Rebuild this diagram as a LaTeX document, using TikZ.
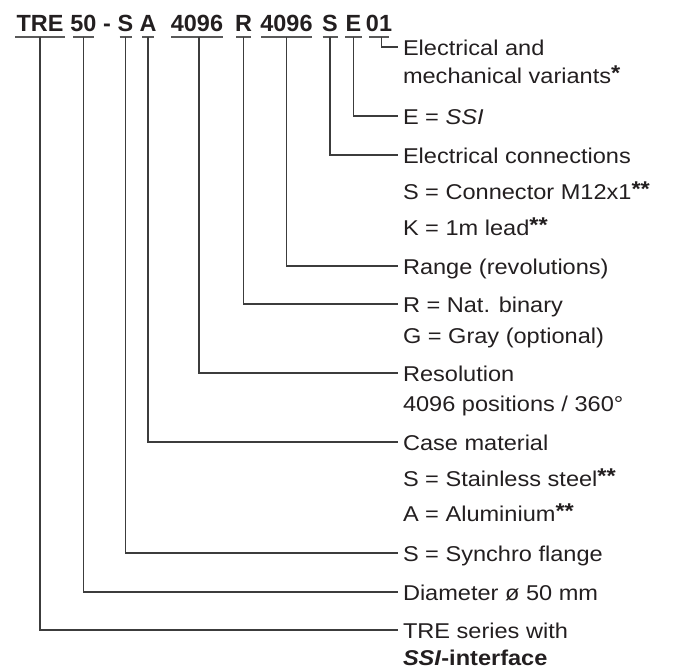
\documentclass[tikz,border=0pt]{standalone}
\usepackage{fontspec}
\setmainfont{Liberation Sans}
\newfontfamily\lblfont{Liberation Sans}[FakeStretch=1.1]
\usetikzlibrary{calc}
\definecolor{ink}{HTML}{231F20}
\definecolor{wire}{HTML}{3C3C3C}
\newcommand\astr[1]{\raisebox{3bp}{\bfseries #1}}
\begin{document}
\begin{tikzpicture}[x=1bp,y=-1bp,
  code/.style={anchor=base, font=\fontsize{23.5}{23.5}\selectfont\bfseries, text=ink,
    inner xsep=0pt, inner ysep=5bp, text depth=0pt, outer sep=0pt},
  lbl/.style={anchor=west, font=\lblfont\fontsize{21.5}{24}\selectfont, text=ink,
    inner xsep=0pt, inner ysep=0pt, outer xsep=5bp, outer ysep=0pt,
    text height=17bp, text depth=0pt},
  wireline/.style={draw=wire, line width=1.1bp},
  uline/.style={draw=wire!85, line width=1.2bp}]
\useasboundingbox (0,0) rectangle (675,670);
% code
\node[code] (ctre) at (40,32) {TRE};
\node[code] (c50) at (83.5,32) {50};
\node[code] (cdash) at (107,32) {-};
\node[code] (cs1) at (125.5,32) {S};
\node[code] (ca) at (148,32) {A};
\node[code] (cres) at (197,32) {4096};
\node[code] (cr) at (243.5,32) {R};
\node[code] (crng) at (286.5,32) {4096};
\node[code] (cs2) at (330,32) {S};
\node[code] (ce) at (353.5,32) {E};
\node[code] (c01) at (379,32) {01};
% underlines
\foreach \n/\w in {ctre/25,c50/10.5,cs1/6,ca/6,cres/26,cr/7.5,crng/25.5,cs2/7.5,ce/8.5,c01/10}
  \draw[uline] ($(\n.south)+(-\w,0)$) -- ($(\n.south)+(\w,0)$);
% labels
\node[lbl] (l1a) at (398,47) {Electrical and};
\node[lbl] (l1b) at (398,75.5) {mechanical variants\astr{*}};
\node[lbl] (l2) at (398,116) {E = \textit{SSI}};
\node[lbl] (l3a) at (398,155) {Electrical connections};
\node[lbl] (l3b) at (398,190.5) {S = Connector M12x1\astr{**}};
\node[lbl] (l3c) at (398,226.5) {K = 1m lead\astr{**}};
\node[lbl] (l4) at (398,266) {Range (revolutions)};
\node[lbl] (l5a) at (398,304) {R = Nat. binary};
\node[lbl] (l5b) at (398,334.5) {G = Gray (optional)};
\node[lbl] (l6a) at (398,373) {Resolution};
\node[lbl] (l6b) at (398,402.5) {4096 positions / 360°};
\node[lbl] (l7a) at (398,442) {Case material};
\node[lbl] (l7b) at (398,477.5) {S = Stainless steel\astr{**}};
\node[lbl] (l7c) at (398,512.5) {A = Aluminium\astr{**}};
\node[lbl] (l8) at (398,553) {S = Synchro flange};
\node[lbl] (l9) at (398,592) {Diameter ø 50 mm};
\node[lbl] (l10a) at (398,630) {TRE series with};
\node[lbl] (l10b) at (398,656.5) {\bfseries\textit{SSI}-interface};
% connectors
\draw[wireline] ([xshift=2.5bp]c01.south) |- (l1a.west);
\draw[wireline] (ce.south) |- (l2.west);
\draw[wireline] (cs2.south) |- (l3a.west);
\draw[wireline] (crng.south) |- (l4.west);
\draw[wireline] (cr.south) |- (l5a.west);
\draw[wireline] ([xshift=2bp]cres.south) |- (l6a.west);
\draw[wireline] (ca.south) |- (l7a.west);
\draw[wireline] (cs1.south) |- (l8.west);
\draw[wireline] (c50.south) |- (l9.west);
\draw[wireline] (ctre.south) |- (l10a.west);
\end{tikzpicture}
\end{document}
